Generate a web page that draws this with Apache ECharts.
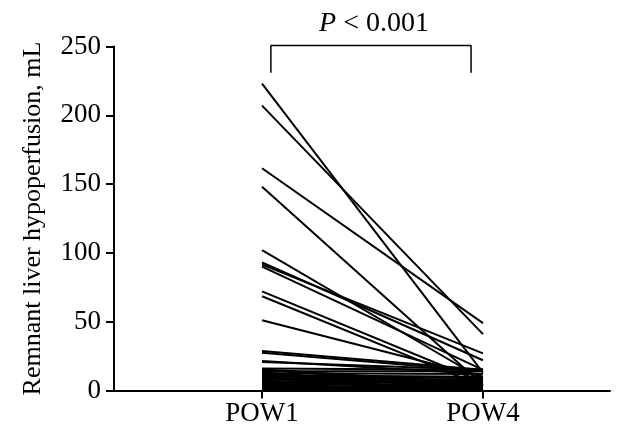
<!DOCTYPE html>
<html>
<head>
<meta charset="utf-8">
<script src="https://cdn.jsdelivr.net/npm/echarts@6/dist/echarts.min.js"></script>
<style>html,body{margin:0;padding:0;background:#fff}#c{width:622px;height:434px}</style>
</head>
<body>
<div id="c"></div>
<script>
var categories = ['POW1', 'POW4'];
var yTicks = [0, 50, 100, 150, 200, 250];
var pow1 = [223, 207, 161.5, 148, 102, 93, 91.5, 90, 72, 68.5, 51, 28.7, 27.4, 21.4, 20.7,
            16, 15.5, 15, 14, 13, 12.5, 12, 11, 10, 9.5, 9, 8.5, 8, 7, 6.5, 6, 5.5, 5, 4.5, 4, 3, 2.5, 2, 1, 0.5];
var pow4 = [13, 41, 49, 4, 8, 22, 27, 15, 6, 3, 10, 15, 14, 12, 15,
            15, 5, 3, 14, 2, 12, 1, 10, 9, 4, 0.5, 8, 6, 2, 5, 1.5, 7, 3, 0, 0.8, 1, 2.5, 0.5, 0, 1];
var pText = '< 0.001';
var bracketX = [1.04, 1.946];
var bracketY = [231, 250.7];

var font = 'Liberation Serif';
var chart = echarts.init(document.getElementById('c'));
var series = pow1.map(function (v, i) {
  return {
    type: 'line', data: [[1, v], [2, pow4[i]]], symbol: 'none', silent: true,
    lineStyle: { color: '#000', width: 2 }, animation: false
  };
});
series.push({
  type: 'line', clip: false, symbol: 'none', silent: true, animation: false,
  data: [[bracketX[0], bracketY[0]], [bracketX[0], bracketY[1]], [bracketX[1], bracketY[1]], [bracketX[1], bracketY[0]]],
  lineStyle: { color: '#000', width: 1.5 }
});
chart.setOption({
  animation: false,
  backgroundColor: '#fff',
  title: {
    text: '{i|P} ' + pText, left: 369, top: 5, textAlign: 'center',
    textStyle: { fontFamily: font, fontSize: 28, fontWeight: 'normal', color: '#000',
      rich: { i: { fontFamily: font, fontSize: 28, fontStyle: 'italic', color: '#000' } } }
  },
  grid: { left: 114, right: 12, top: 46.5, bottom: 43.5, containLabel: false },
  xAxis: {
    type: 'value', min: 0.33, max: 2.575,
    axisLine: { show: true, onZero: false, lineStyle: { color: '#000', width: 2 } },
    axisTick: { show: true, customValues: [1, 2], length: 8, lineStyle: { color: '#000', width: 2 } },
    axisLabel: { customValues: [1, 2], formatter: function (v) { return categories[Math.round(v) - 1]; },
      fontFamily: font, fontSize: 27, color: '#000', margin: 10 },
    splitLine: { show: false }
  },
  yAxis: {
    type: 'value', min: 0, max: 250, interval: 50,
    name: 'Remnant liver hypoperfusion, mL', nameLocation: 'middle', nameGap: 68,
    nameTextStyle: { fontFamily: font, fontSize: 26, color: '#000' },
    axisLine: { show: true, onZero: false, lineStyle: { color: '#000', width: 2 } },
    axisTick: { show: true, length: 8, lineStyle: { color: '#000', width: 2 } },
    axisLabel: { fontFamily: font, fontSize: 27, color: '#000', margin: 13 },
    splitLine: { show: false }
  },
  series: series
});
</script>
</body>
</html>
